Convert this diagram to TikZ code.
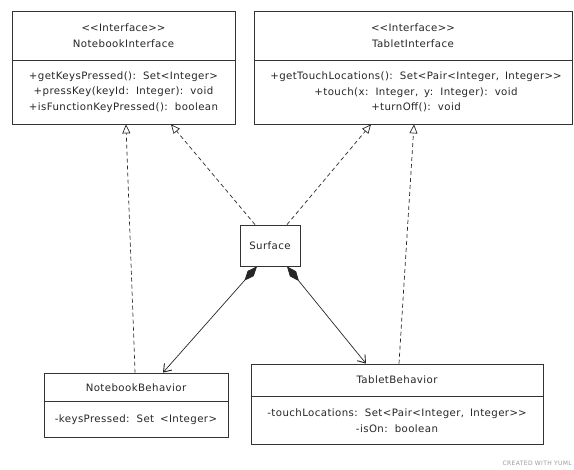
\documentclass[tikz,border=0pt]{standalone}
\usepackage{fontspec}
\setmainfont{DejaVu Sans}[LetterSpace=4, WordSpace=1.6]
\newfontfamily\creditfont{DejaVu Sans}[LetterSpace=6]
\usetikzlibrary{arrows.meta,calc}

% angle brackets kept apart so they are not joined into guillemets
\newcommand{\dlt}{<\kern0pt<}
\newcommand{\dgt}{>\kern0pt>}

\tikzset{
  umlbox/.style={draw=black!80, line width=0.8pt, rectangle, inner sep=0pt, fill=white},
  umltext/.style={align=center, text=black!85, inner sep=0pt,
    font=\fontsize{10.2}{15.5}\selectfont},
  headtext/.style={umltext, font=\fontsize{10.2}{16}\selectfont},
  divider/.style={draw=black!80, line width=0.8pt},
  realize/.style={draw=black!85, line width=0.7pt, dash pattern=on 4pt off 3pt,
    -{Triangle[open, length=9pt, width=8pt, fill=white]}},
  compose/.style={draw=black!85, line width=0.7pt,
    {Diamond[length=19pt, width=8pt]}-{Straight Barb[length=7pt, width=10pt, line width=0.9pt]}},
  credit/.style={text=black!40, inner sep=0pt, anchor=east,
    font=\creditfont\fontsize{6}{7}\selectfont}
}

\begin{document}
\begin{tikzpicture}[x=1pt, y=-1pt]
  \useasboundingbox (0,0) rectangle (574,470);

  % NotebookInterface
  \node[umlbox, minimum width=223pt, minimum height=113pt] (ni) at (123.5,67.5) {};
  \draw[divider] (ni.west |- 0,60) -- (ni.east |- 0,60);
  \node[headtext] (nihead) at (123.5,36) {\dlt Interface\dgt\\NotebookInterface};
  \node[umltext] (nibody) at (123.5,92) {+getKeysPressed(): Set<Integer>\\+pressKey(keyId: Integer): void\\+isFunctionKeyPressed(): boolean};

  % TabletInterface
  \node[umlbox, minimum width=318pt, minimum height=113pt] (ti) at (413,67.5) {};
  \draw[divider] (ti.west |- 0,60) -- (ti.east |- 0,60);
  \node[headtext] (tihead) at (413,36) {\dlt Interface\dgt\\TabletInterface};
  \node[umltext] (tibody) at (416,92) {+getTouchLocations(): Set<Pair<Integer, Integer\dgt\\+touch(x: Integer, y: Integer): void\\+turnOff(): void};

  % Surface
  \node[umlbox, minimum width=60pt, minimum height=41pt] (sf) at (270,245.5) {};
  \node[umltext] (sftext) at (270,245.5) {Surface};

  % NotebookBehavior
  \node[umlbox, minimum width=184pt, minimum height=64pt] (nb) at (136,405) {};
  \draw[divider] (nb.west |- 0,401) -- (nb.east |- 0,401);
  \node[umltext] (nbhead) at (136,388) {NotebookBehavior};
  \node[umltext] (nbbody) at (136,420) {-keysPressed: Set <Integer>};

  % TabletBehavior
  \node[umlbox, minimum width=292pt, minimum height=80pt] (tb) at (397,404) {};
  \draw[divider] (tb.west |- 0,396) -- (tb.east |- 0,396);
  \node[umltext] (tbhead) at (397,380) {TabletBehavior};
  \node[umltext] (tbbody) at (397,420.5) {-touchLocations: Set<Pair<Integer, Integer\dgt\\-isOn: boolean};

  % realisations
  \draw[realize] ([xshift=-1pt]nb.north) -- ([xshift=2.5pt]ni.south);
  \draw[realize] ([xshift=-15pt]sf.north) -- ([xshift=47.5pt]ni.south);
  \draw[realize] ([xshift=17pt]sf.north) -- ([xshift=-42pt]ti.south);
  \draw[realize] ([xshift=2pt]tb.north) -- ([xshift=1pt]ti.south);

  % compositions
  \draw[compose] ([xshift=-13pt]sf.south) -- ([xshift=27pt]nb.north);
  \draw[compose] ([xshift=17pt]sf.south) -- ([xshift=-31pt]tb.north);

  % credit line
  \node[credit] (cr) at (572,463) {CREATED WITH YUML};
\end{tikzpicture}
\end{document}
